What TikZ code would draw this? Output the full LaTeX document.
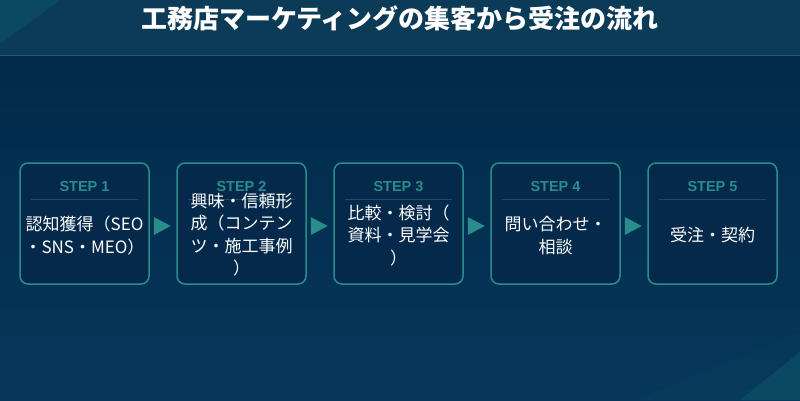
\documentclass[tikz,border=0pt]{standalone}
\usepackage{fontspec}
\setmainfont{Noto Sans CJK JP}
\newfontfamily\latinb{Liberation Sans}
\usetikzlibrary{calc}
\definecolor{bgtop}{HTML}{022A4A}
\definecolor{bgbot}{HTML}{06375A}
\definecolor{barc}{HTML}{0C3B57}
\definecolor{barline}{HTML}{1E5E6C}
\definecolor{accent}{HTML}{2B8C8C}
\definecolor{boxfill}{HTML}{04294A}
\definecolor{uline}{HTML}{1C4D62}
\definecolor{corner}{HTML}{0B4862}
\begin{document}
\begin{tikzpicture}[x=1pt,y=-1pt,
  stepbox/.style={draw=accent, line width=1.5pt, rounded corners=8pt, fill=boxfill,
    minimum width=129pt, minimum height=121pt, inner sep=0pt},
  steplabel/.style={text=accent, font=\latinb\bfseries\fontsize{14.5}{17}\selectfont, inner sep=0pt},
  bodytext/.style={text=white, font=\fontsize{17}{22.5}\selectfont, align=center, inner sep=0pt},
  arrowtip/.style={fill=accent},
  underl/.style={draw=uline, line width=1.5pt}]
\useasboundingbox (0,0) rectangle (800,400);
% background
\shade[top color=bgtop, bottom color=bgbot] (0,55) rectangle (800,400);
\fill[barc] (0,0) rectangle (800,55);
\fill[corner] (0,0) -- (60,0) -- (0,44) -- cycle;
\fill[corner, opacity=0.2] (800,332) -- (800,400) -- (635,400) -- cycle;
\fill[corner] (800,352) -- (800,400) -- (740,400) -- cycle;
\draw[barline, line width=1.5pt] (0,55.5) -- (800,55.5);
% title
\node[text=white, font=\bfseries\fontsize{26}{30}\selectfont, inner sep=0pt] (title) at (400,18) {工務店マーケティングの集客から受注の流れ};
% boxes
\foreach \i/\x in {1/84.5,2/241.5,3/398.5,4/555.5,5/712.5}{
  \node[stepbox] (b\i) at (\x,223.5) {};
  \node[steplabel] (s\i) at ($(b\i.north)+(0,24)$) {STEP \i};
  \draw[underl] ($(b\i.north west)+(12,37)$) -- ($(b\i.north east)+(-12,37)$);
}
\node[bodytext] (t1) at ($(b1.center)+(0,12)$) {認知獲得（SEO\\・SNS・MEO）};
\node[bodytext] (t2) at ($(b2.center)+(0,11)$) {興味・信頼形\\成（コンテン\\ツ・施工事例\\）};
\node[bodytext] (t3) at ($(b3.center)+(0,12)$) {比較・検討（\\資料・見学会\\）};
\node[bodytext] (t4) at ($(b4.center)+(0,12)$) {問い合わせ・\\相談};
\node[bodytext] (t5) at ($(b5.center)+(0,12)$) {受注・契約};
% arrows
\foreach \a/\b in {1/2,2/3,3/4,4/5}{
  \fill[arrowtip] ($(b\a.east)+(4,-6.5)$) -- ($(b\a.east)+(21,2.5)$) -- ($(b\a.east)+(4,11.5)$) -- cycle;
}
\end{tikzpicture}
\end{document}
